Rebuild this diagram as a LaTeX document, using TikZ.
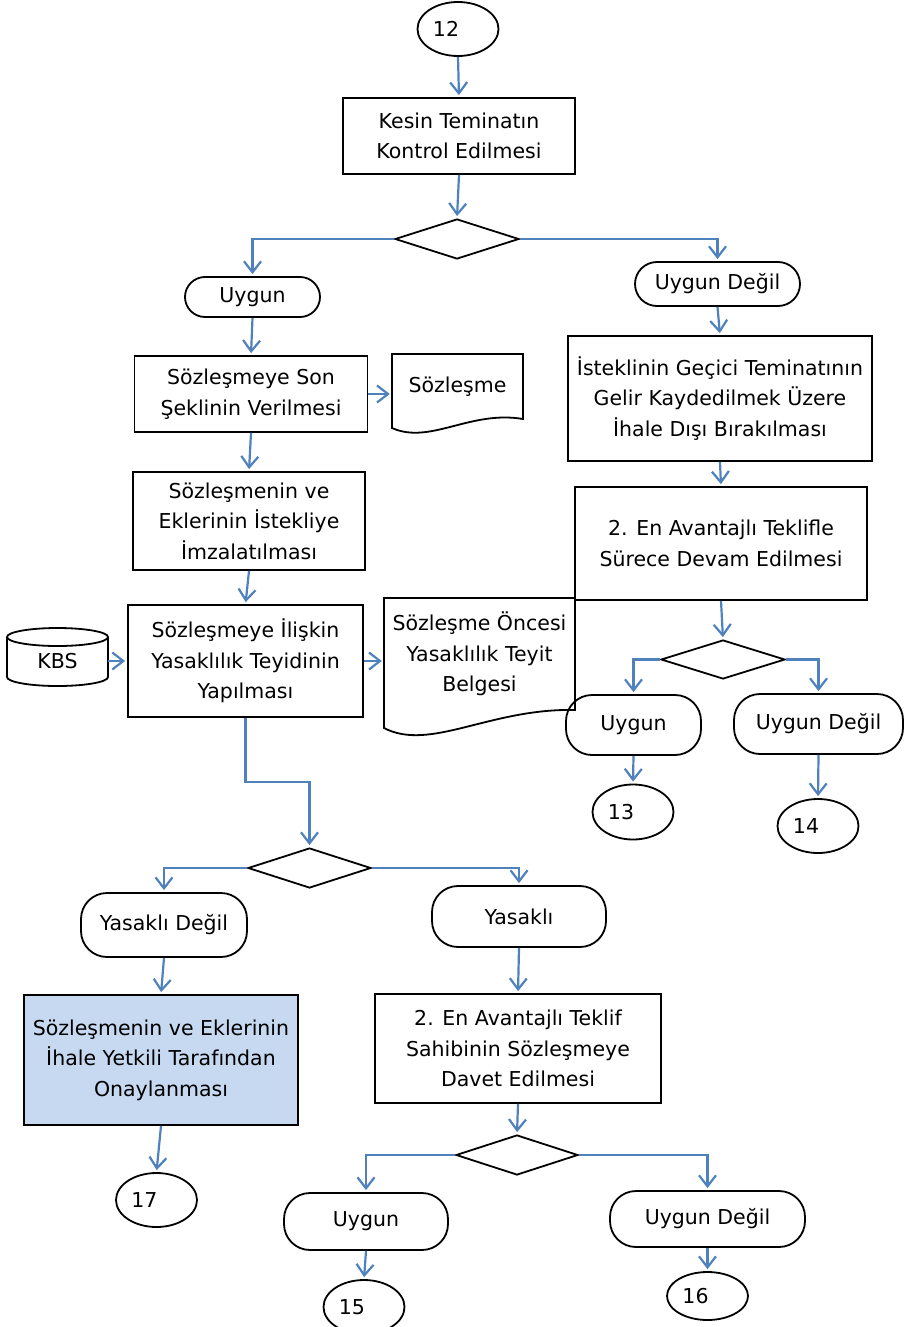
\documentclass[tikz,border=0pt]{standalone}
\usepackage{fontspec}
\setmainfont{DejaVu Sans}
\usetikzlibrary{shapes.geometric,arrows.meta}
\definecolor{flowblue}{HTML}{4F81BD}
\definecolor{boxblue}{HTML}{C6D9F1}
\begin{document}
\begin{tikzpicture}[x=1pt, y=-1pt,
    every node/.style={font=\fontsize{20.5}{30.5}\selectfont, inner sep=0pt, align=center},
    process/.style={draw, line width=1.8pt, rectangle},
    term/.style={draw, line width=1.8pt, rectangle, rounded corners=26pt},
    decide/.style={draw, line width=1.8pt, diamond, minimum width=124, minimum height=40},
    conn/.style={draw, line width=1.8pt, ellipse, minimum width=81, execute at end node={\hspace*{24pt}}},
    flow/.style={draw=flowblue, line width=2.2pt, -{Straight Barb[length=11pt,width=17pt]}, shorten >=2pt},
    doc/.style={draw, line width=1.8pt, fill=white}]
    \useasboundingbox (0,0) rectangle (903,1327);
    % Draw the connector circles
    \foreach \n/\x/\y/\h in {12/458/29/54, 13/633/812/55, 14/818/826/54, 15/364/1307/54, 16/707.5/1296/48, 17/156.5/1200/54} {
            \node[conn, minimum height=\h] (c\n) at (\x,\y) {\n};
        }
    % Draw the documents and the database
    \draw[doc] (392,354) -- (523,354) -- (523,419) .. controls (470,410) and (430,445) .. (392,428) -- cycle;
    \draw[doc] (384,598) -- (575,598) -- (575,710) .. controls (490,708) and (430,752) .. (384,728) -- cycle;
    \draw[doc] (7,637) -- (7,677) arc[start angle=180, end angle=0, x radius=50.5, y radius=9] -- (108,637);
    \draw[doc] (57.5,637) ellipse [x radius=50.5, y radius=9];
    \node[minimum width=131, minimum height=65] (sozdoc) at (457.5,386.5) {Sözleşme};
    \node[minimum width=191, minimum height=112] (belge) at (479.5,654) {Sözleşme Öncesi\\Yasaklılık Teyit\\Belgesi};
    \node[minimum width=101, minimum height=50] (kbs) at (57.5,661) {KBS};
    % Draw the process boxes
    \node[process, minimum width=232, minimum height=76] (kesin) at (459,136) {Kesin Teminatın\\Kontrol Edilmesi};
    \node[process, minimum width=233, minimum height=76] (son) at (251,394) {Sözleşmeye Son\\Şeklinin Verilmesi};
    \node[process, minimum width=232, minimum height=98] (imza) at (249,521) {Sözleşmenin ve\\Eklerinin İstekliye\\İmzalatılması};
    \node[process, minimum width=235, minimum height=112] (teyit) at (245.5,661) {Sözleşmeye İlişkin\\Yasaklılık Teyidinin\\Yapılması};
    \node[process, minimum width=304, minimum height=125] (istek) at (720,398.5) {İsteklinin Geçici Teminatının\\Gelir Kaydedilmek Üzere\\İhale Dışı Bırakılması};
    \node[process, minimum width=292, minimum height=113] (devam) at (721,543.5) {2. En Avantajlı Teklifle\\Sürece Devam Edilmesi};
    \node[process, fill=boxblue, minimum width=274, minimum height=130] (onay) at (161,1060) {Sözleşmenin ve Eklerinin\\İhale Yetkili Tarafından\\Onaylanması};
    \node[process, minimum width=286, minimum height=109] (davet) at (518,1048.5) {2. En Avantajlı Teklif\\Sahibinin Sözleşmeye\\Davet Edilmesi};
    % Draw the decisions
    \node[decide] (d1) at (457,239) {};
    \node[decide, minimum height=39] (d2) at (723,659.5) {};
    \node[decide, minimum width=123] (d3) at (309.5,868) {};
    \node[decide, minimum width=122] (d4) at (517,1155) {};
    % Draw the outcomes
    \node[term, rounded corners=20pt, minimum width=135, minimum height=40] (uy1) at (252.5,297) {Uygun};
    \node[term, rounded corners=22pt, minimum width=165, minimum height=44] (ud1) at (717.5,284) {Uygun Değil};
    \node[term, minimum width=135, minimum height=60] (uy2) at (633.5,725) {Uygun};
    \node[term, minimum width=169, minimum height=60] (ud2) at (818.5,724) {Uygun Değil};
    \node[term, minimum width=166, minimum height=64] (ydegil) at (164,925) {Yasaklı Değil};
    \node[term, minimum width=174, minimum height=61] (yasakli) at (519,916.5) {Yasaklı};
    \node[term, minimum width=164, minimum height=57] (uy3) at (366,1221.5) {Uygun};
    \node[term, minimum width=195, minimum height=56] (ud3) at (707.5,1219) {Uygun Değil};
    % Draw the straight flows
    \foreach \a/\b in {c12/kesin, kesin/d1, uy1/son, son/imza, imza/teyit, ud1/istek, istek/devam, devam/d2, uy2/c13, ud2/c14, ydegil/onay, yasakli/davet, davet/d4, uy3/c15, ud3/c16, onay/c17} {
            \draw[flow] (\a.south) -- (\b.north);
        }
    % Draw the decision branches
    \foreach \d/\l/\r in {d1/uy1/ud1, d2/uy2/ud2, d3/ydegil/yasakli, d4/uy3/ud3} {
            \draw[flow] (\d.west) -| (\l.north);
            \draw[flow] (\d.east) -| (\r.north);
        }
    % Draw the side flows
    \draw[flow] (son.east) -- (son.east -| sozdoc.west);
    \draw[flow] (kbs.east) -- (kbs.east -| teyit.west);
    \draw[flow] (teyit.east) -- (teyit.east -| belge.west);
    \draw[flow] (teyit.south) -- ++(0,64) -| (d3.north);
\end{tikzpicture}
\end{document}
